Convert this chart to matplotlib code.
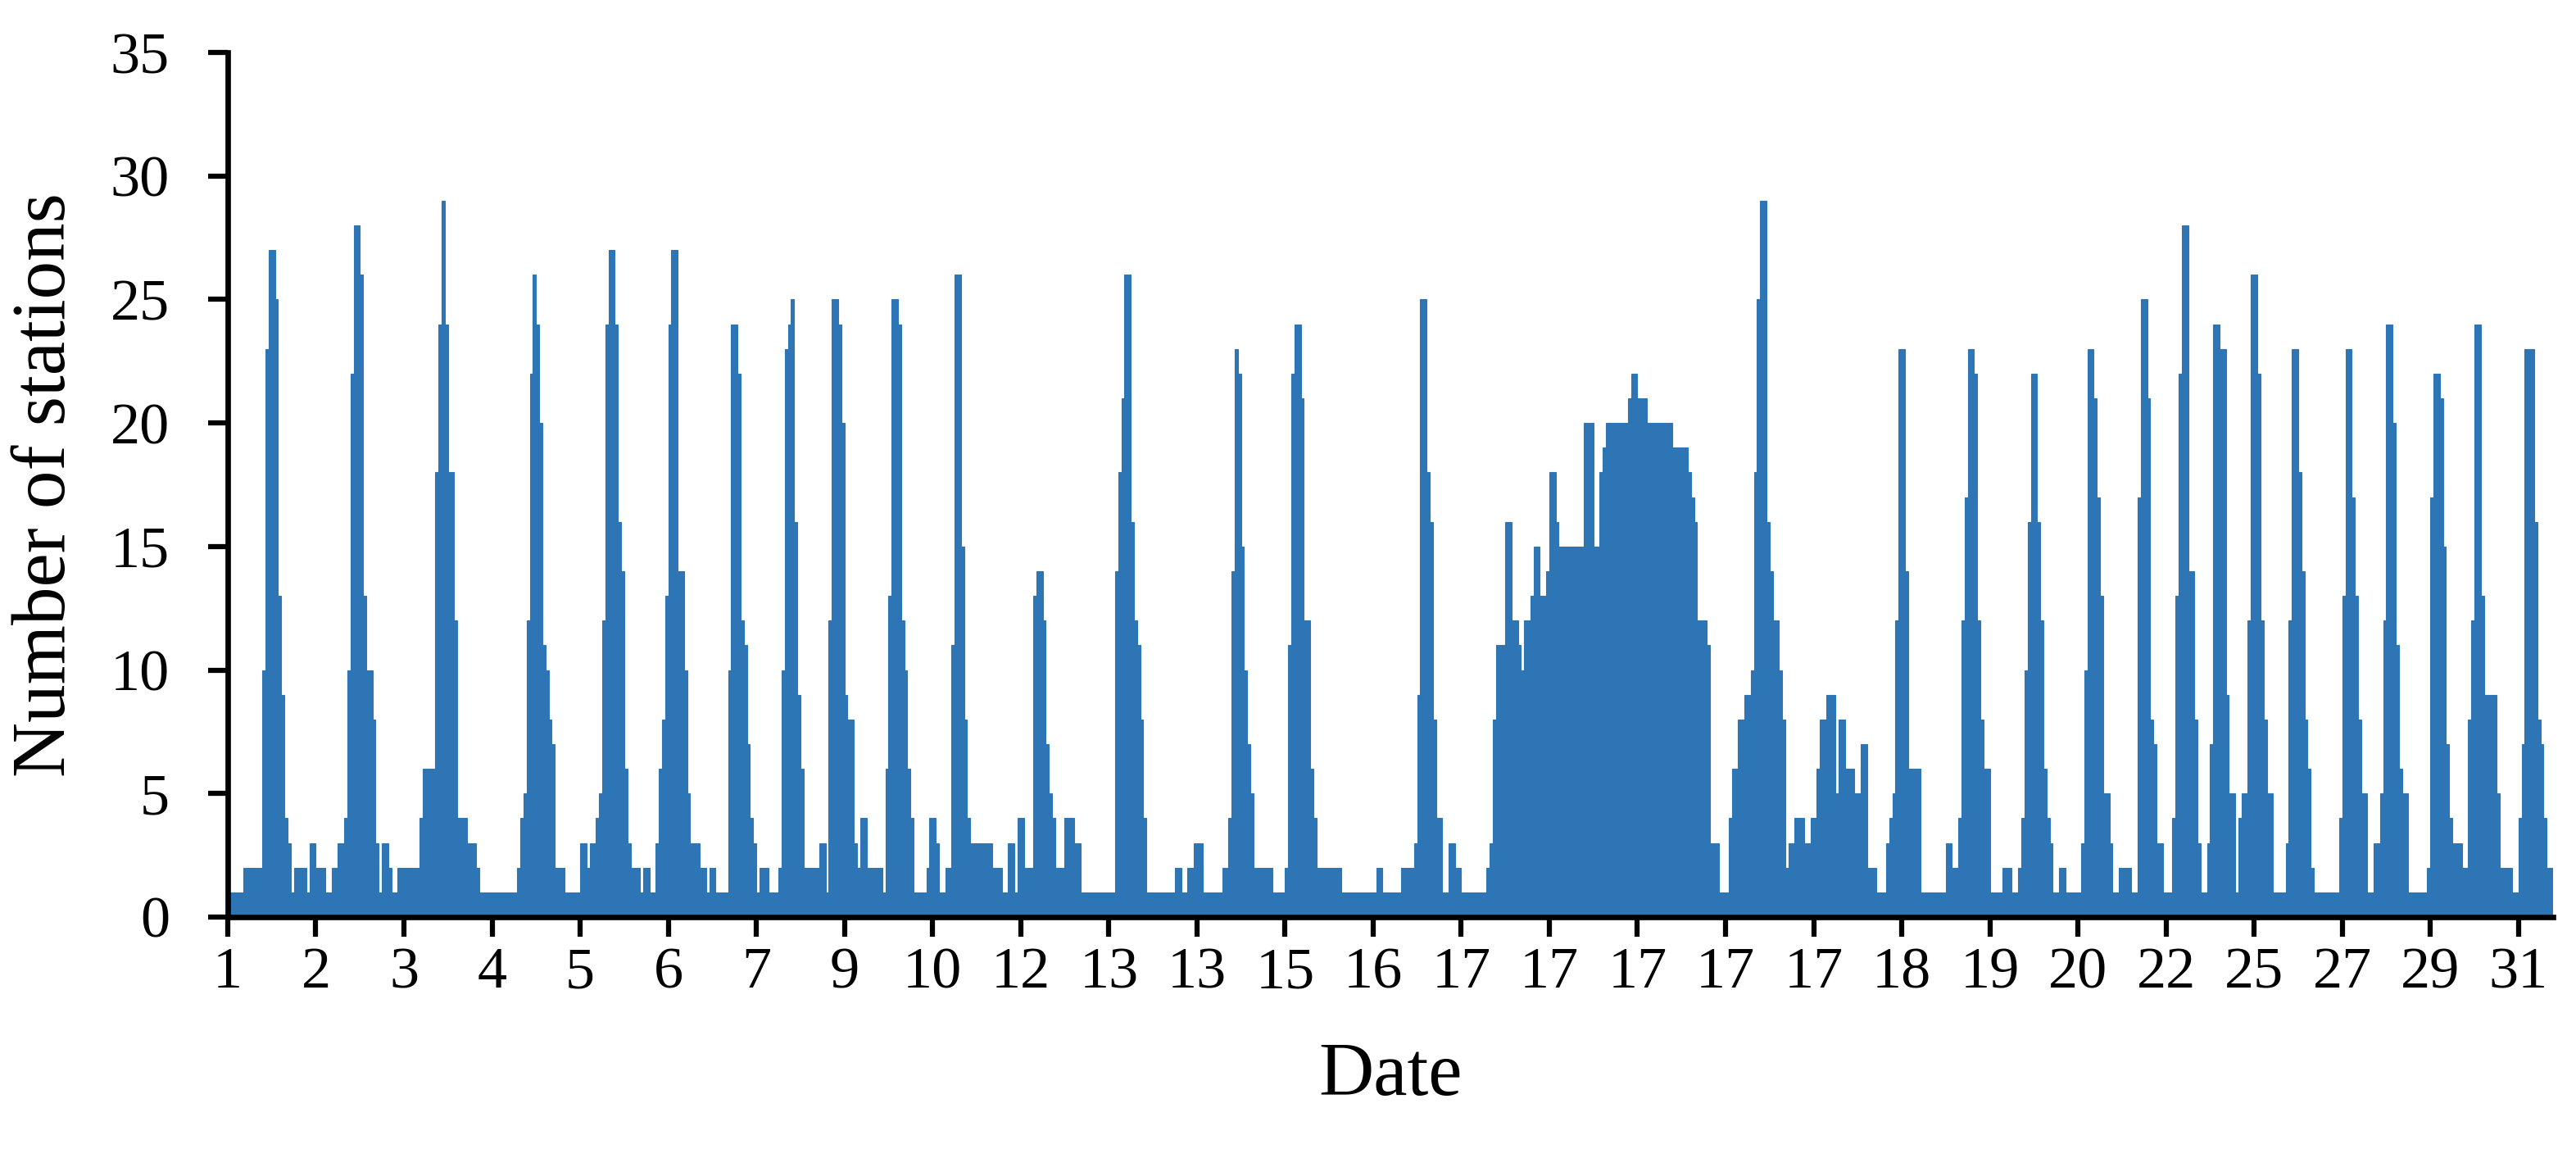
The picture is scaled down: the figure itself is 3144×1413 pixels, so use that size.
import numpy as np
import matplotlib
matplotlib.use("Agg")
import matplotlib.pyplot as plt

# date labels on the category axis, one every 28 records
tick_labels = ["1", "2", "3", "4", "5", "6", "7", "9", "10", "12", "13", "13",
               "15", "16", "17", "17", "17", "17", "17", "18", "19", "20",
               "22", "25", "27", "29", "31"]

# number of stations per record, grouped by the label that starts the group
stations = [
    [1, 1, 1, 1, 1, 2, 2, 2, 2, 2, 2, 10, 23, 27, 27, 25, 13, 9, 4, 3, 1, 2, 2, 2, 2, 1, 3, 3],          # 1
    [2, 2, 2, 1, 1, 2, 2, 3, 3, 4, 10, 22, 28, 28, 26, 13, 10, 10, 8, 3, 1, 3, 3, 2, 1, 1, 2, 2],        # 2
    [2, 2, 2, 2, 2, 4, 6, 6, 6, 6, 18, 24, 29, 24, 18, 18, 12, 4, 4, 4, 3, 3, 3, 2, 1, 1, 1, 1],        # 3
    [1, 1, 1, 1, 1, 1, 1, 1, 2, 4, 5, 12, 22, 26, 24, 20, 11, 10, 8, 7, 2, 2, 2, 1, 1, 1, 1, 1],        # 4
    [3, 3, 2, 3, 3, 4, 5, 12, 24, 27, 27, 24, 16, 14, 6, 3, 2, 2, 2, 1, 2, 2, 1, 1, 3, 6, 8, 13],       # 5
    [24, 27, 27, 14, 14, 10, 5, 3, 3, 3, 2, 2, 1, 2, 2, 1, 1, 1, 1, 10, 24, 24, 22, 12, 11, 7, 4, 3],   # 6
    [1, 2, 2, 2, 1, 1, 1, 2, 10, 23, 24, 25, 16, 9, 6, 2, 2, 2, 2, 2, 3, 3, 1, 12, 25, 25, 24, 20],     # 7
    [9, 8, 8, 3, 2, 4, 4, 2, 2, 2, 2, 2, 1, 6, 13, 25, 25, 24, 12, 10, 6, 4, 1, 1, 1, 1, 2, 4],         # 9
    [4, 3, 1, 1, 2, 2, 11, 26, 26, 15, 8, 4, 3, 3, 3, 3, 3, 3, 3, 2, 2, 2, 1, 1, 3, 3, 1, 4],           # 10
    [4, 2, 2, 2, 13, 14, 14, 12, 7, 5, 4, 2, 2, 2, 4, 4, 4, 3, 3, 1, 1, 1, 1, 1, 1, 1, 1, 1],           # 12
    [1, 1, 14, 18, 21, 26, 26, 16, 12, 11, 8, 4, 1, 1, 1, 1, 1, 1, 1, 1, 1, 2, 2, 1, 1, 2, 2, 3],       # 13
    [3, 3, 1, 1, 1, 1, 1, 1, 2, 2, 4, 14, 23, 22, 15, 10, 7, 5, 2, 2, 2, 2, 2, 2, 1, 1, 1, 1],          # 13
    [2, 11, 22, 24, 24, 21, 12, 12, 6, 4, 2, 2, 2, 2, 2, 2, 2, 2, 1, 1, 1, 1, 1, 1, 1, 1, 1, 1],        # 15
    [1, 2, 2, 1, 1, 1, 1, 1, 1, 2, 2, 2, 2, 3, 9, 25, 25, 18, 16, 8, 4, 4, 1, 1, 3, 3, 2, 2],           # 16
    [1, 1, 1, 1, 1, 1, 1, 1, 2, 3, 8, 11, 11, 11, 16, 16, 12, 12, 11, 10, 12, 12, 13, 15, 15, 13, 13, 14],   # 17
    [18, 18, 16, 15, 15, 15, 15, 15, 15, 15, 15, 20, 20, 20, 15, 15, 18, 19, 20, 20, 20, 20, 20, 20, 20, 21, 22, 22],  # 17
    [21, 21, 21, 20, 20, 20, 20, 20, 20, 20, 20, 19, 19, 19, 19, 19, 18, 17, 16, 12, 12, 12, 11, 3, 3, 3, 1, 1],  # 17
    [1, 4, 6, 6, 8, 8, 9, 9, 10, 18, 25, 29, 29, 16, 14, 12, 12, 10, 8, 2, 3, 3, 4, 4, 4, 3, 3, 4],     # 17
    [4, 6, 8, 8, 9, 9, 9, 5, 8, 8, 6, 6, 6, 5, 5, 7, 7, 2, 2, 2, 1, 1, 1, 3, 4, 5, 12, 23],             # 17
    [23, 14, 6, 6, 6, 6, 1, 1, 1, 1, 1, 1, 1, 1, 3, 3, 2, 2, 4, 12, 17, 23, 23, 22, 12, 8, 6, 6],       # 18
    [1, 1, 1, 1, 2, 2, 2, 1, 1, 2, 4, 10, 16, 22, 22, 16, 12, 6, 4, 3, 1, 1, 2, 2, 1, 1, 1, 1],         # 19
    [1, 3, 10, 23, 23, 21, 17, 13, 5, 5, 3, 1, 1, 2, 2, 2, 2, 1, 1, 17, 25, 25, 21, 8, 7, 3, 3, 1],     # 20
    [1, 1, 4, 13, 22, 28, 28, 14, 14, 8, 3, 1, 1, 3, 7, 24, 24, 23, 23, 9, 5, 5, 1, 4, 5, 5, 12, 26],   # 22
    [26, 22, 12, 8, 5, 5, 1, 1, 1, 1, 3, 12, 23, 23, 18, 14, 8, 6, 2, 1, 1, 1, 1, 1, 1, 1, 1, 4],       # 25
    [13, 23, 23, 17, 13, 8, 5, 5, 1, 1, 3, 3, 5, 12, 24, 24, 20, 11, 6, 5, 5, 1, 1, 1, 1, 1, 1, 2],     # 27
    [17, 22, 22, 21, 15, 7, 4, 3, 3, 3, 2, 2, 8, 12, 24, 24, 13, 9, 9, 9, 9, 5, 2, 2, 2, 2, 1, 1],      # 29
    [4, 7, 23, 23, 23, 16, 8, 7, 4, 2, 2],                                                              # 31
]

label_step = 28
values = np.concatenate([np.array(s) for s in stations])
x = np.arange(len(values))

plt.rcParams['font.family'] = ['Liberation Serif', 'DejaVu Serif']

fig = plt.figure(figsize=(31.44, 14.13), dpi=100)
ax = fig.add_axes([0.0884, 0.2081, 0.9027, 0.7466])

blue = '#2E75B6'
ax.bar(x, values, width=1.0, align='edge', color=blue, edgecolor=blue, linewidth=0.8)

ax.set_xlim(0, len(values))
ax.set_ylim(0, 35)
ax.set_yticks(np.arange(0, 36, 5))
ax.set_xticks(np.arange(0, len(values), label_step))
ax.set_xticklabels(tick_labels)

for side in ['top', 'right']:
    ax.spines[side].set_visible(False)
for side in ['left', 'bottom']:
    ax.spines[side].set_linewidth(4.8)
    ax.spines[side].set_color('black')

ax.tick_params(axis='both', direction='out', length=17, width=4.5, labelsize=52, colors='black')
ax.tick_params(axis='x', pad=9)
ax.tick_params(axis='y', pad=34)

ax.set_xlabel('Date', fontsize=67)
ax.set_ylabel('Number of stations', fontsize=67)
ax.xaxis.set_label_coords(0.5, -0.184)
ax.xaxis.label.set_va('center')
ax.yaxis.set_label_coords(-0.078, 0.5)
ax.yaxis.label.set_va('center')

fig.savefig('out.png', dpi=100)
